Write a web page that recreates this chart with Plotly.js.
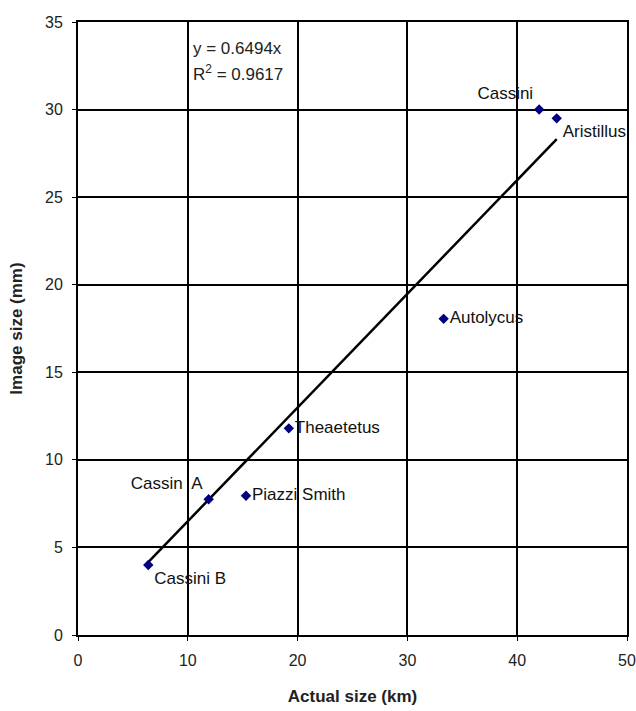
<!DOCTYPE html>
<html><head><meta charset="utf-8">
<script src="https://cdn.plot.ly/plotly-3.0.1.min.js"></script>
<style>html,body{margin:0;padding:0;background:#fff}#chart{width:636px;height:711px}</style>
</head><body><div id="chart"></div>
<script>
const craters = ["Cassini B","Cassin  A","Piazzi Smith","Theaetetus","Autolycus","Cassini","Aristillus"];
const actualKm = [6.4, 11.9, 15.3, 19.2, 33.3, 42.0, 43.6];
const imageMm = [4.0, 7.75, 7.95, 11.8, 18.05, 30.0, 29.5];
const labelPos = ["bottom right","top left","middle right","middle right","middle right","top left","bottom right"];
const slope = 0.6494;
const r2 = 0.9617;

const xMin = Math.min(...actualKm), xMax = Math.max(...actualKm);
const trendX = [xMin, xMax];
const trendY = trendX.map(v => slope * v);

const font = "Liberation Sans, Arial, sans-serif";
const traces = [
  {x: trendX, y: trendY, mode: "lines", line: {color: "#000", width: 2.5}, hoverinfo: "skip"},
  {x: actualKm, y: imageMm, mode: "markers+text", text: craters, textposition: labelPos,
   textfont: {family: font, size: 17, color: "#111"},
   marker: {symbol: "diamond", size: 8, color: "#000080"}}
];
const layout = {
  width: 636, height: 711,
  margin: {l: 78, r: 9, t: 22, b: 76},
  paper_bgcolor: "#fff", plot_bgcolor: "#fff",
  showlegend: false,
  font: {family: font, size: 16, color: "#222"},
  xaxis: {range: [0, 50], dtick: 10, showgrid: true, gridcolor: "#000", gridwidth: 2,
          zeroline: false, showline: true, linecolor: "#000", linewidth: 2, mirror: true,
          ticks: "outside", ticklen: 4, tickcolor: "#000", ticklabelstandoff: 6,
          title: {text: "Actual size (km)", font: {family: font, size: 17, color: "#222", weight: "bold"}, standoff: 22}},
  yaxis: {range: [0, 35], dtick: 5, showgrid: true, gridcolor: "#000", gridwidth: 2,
          zeroline: false, showline: true, linecolor: "#000", linewidth: 2, mirror: true,
          ticks: "outside", ticklen: 4, tickcolor: "#000", ticklabelstandoff: 6,
          title: {text: "Image size (mm)", font: {family: font, size: 17, color: "#222", weight: "bold"}, standoff: 18}},
  annotations: [
    {xref: "x", yref: "y", x: 10.3, y: 33.5, xanchor: "left", yanchor: "middle", showarrow: false,
     text: "y = " + slope + "x", font: {family: font, size: 17, color: "#222"}},
    {xref: "x", yref: "y", x: 10.3, y: 32.1, xanchor: "left", yanchor: "middle", showarrow: false,
     text: "R<sup>2</sup> = " + r2, font: {family: font, size: 17, color: "#222"}}
  ]
};
Plotly.newPlot("chart", traces, layout, {displayModeBar: false, staticPlot: true});
</script></body></html>
